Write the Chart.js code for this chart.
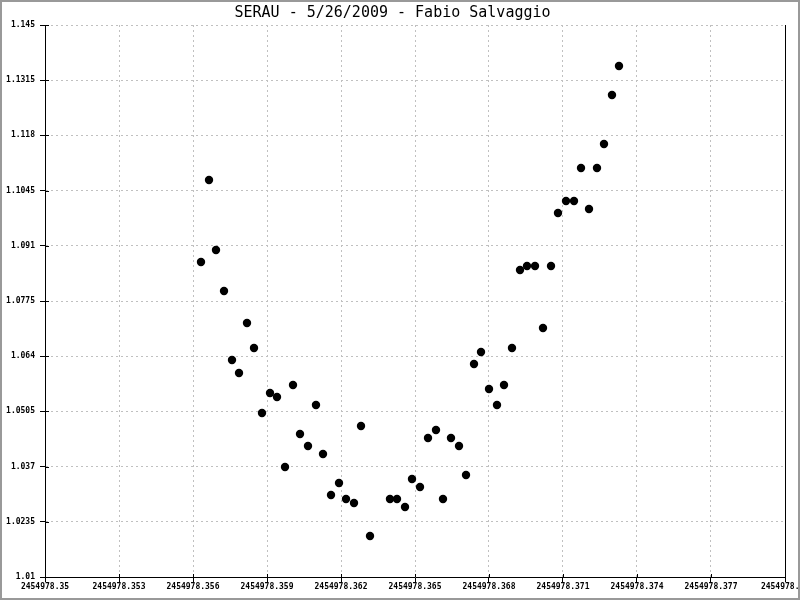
<!DOCTYPE html>
<html>
<head>
<meta charset="utf-8">
<script src="https://cdn.jsdelivr.net/npm/chart.js@4"></script>
<style>
  body { margin: 0; background: #fff; }
  #wrap { width: 800px; height: 600px; }
</style>
</head>
<body>
<div id="wrap"><canvas id="lightChart" width="800" height="600"></canvas></div>
<script>
// JD of each frame and its measured flux ratio
const jd = [
  2454978.356324, 2454978.356649, 2454978.356932, 2454978.357257, 2454978.357581,
  2454978.357865, 2454978.358189, 2454978.358473, 2454978.358797, 2454978.359122,
  2454978.359405, 2454978.359730, 2454978.360054, 2454978.360338, 2454978.360662,
  2454978.360986, 2454978.361270, 2454978.361595, 2454978.361919, 2454978.362203,
  2454978.362527, 2454978.362811, 2454978.363176, 2454978.363986, 2454978.364270,
  2454978.364595, 2454978.364878, 2454978.365203, 2454978.365527, 2454978.365851,
  2454978.366135, 2454978.366459, 2454978.366784, 2454978.367068, 2454978.367392,
  2454978.367676, 2454978.368000, 2454978.368324, 2454978.368608, 2454978.368932,
  2454978.369257, 2454978.369541, 2454978.369865, 2454978.370189, 2454978.370514,
  2454978.370797, 2454978.371122, 2454978.371446, 2454978.371730, 2454978.372054,
  2454978.372378, 2454978.372662, 2454978.372986, 2454978.373270
];
const flux = [
  1.08704, 1.10709, 1.08997, 1.07995, 1.06307,
  1.05989, 1.07212, 1.06600, 1.05011, 1.05500,
  1.05402, 1.03690, 1.05696, 1.04497, 1.04204,
  1.05207, 1.04008, 1.03005, 1.03299, 1.02908,
  1.02810, 1.04693, 1.02003, 1.02908, 1.02908,
  1.02712, 1.03397, 1.03201, 1.04399, 1.04595,
  1.02908, 1.04399, 1.04204, 1.03495, 1.06209,
  1.06503, 1.05598, 1.05207, 1.05696, 1.06600,
  1.08508, 1.08606, 1.08606, 1.07090, 1.08606,
  1.09902, 1.10196, 1.10196, 1.11003, 1.10000,
  1.11003, 1.11590, 1.12788, 1.13497
];
const xTicks = [2454978.35, 2454978.353, 2454978.356, 2454978.359, 2454978.362, 2454978.365,
                2454978.368, 2454978.371, 2454978.374, 2454978.377, 2454978.38];
const xTickLabels = ['2454978.35', '2454978.353', '2454978.356', '2454978.359', '2454978.362', '2454978.365',
                     '2454978.368', '2454978.371', '2454978.374', '2454978.377', '2454978.38'];
const yTicks = [1.01, 1.0235, 1.037, 1.0505, 1.064, 1.0775, 1.091, 1.1045, 1.118, 1.1315, 1.145];
const yTickLabels = ['1.01', '1.0235', '1.037', '1.0505', '1.064', '1.0775', '1.091', '1.1045', '1.118', '1.1315', '1.145'];

const points = jd.map((x, i) => ({ x: x, y: flux[i] }));
const tickFont = { family: 'DejaVu Sans Mono', size: 8, weight: 'bold' };
const gridStyle = { color: '#c0c0c0', tickColor: '#000', tickLength: 5, lineWidth: 1 };

// inner half of the tick marks + grey frame round the picture
const extras = {
  id: 'extras',
  afterDraw(chart) {
    const ctx = chart.ctx;
    const a = chart.chartArea;
    const xs = chart.scales.x, ys = chart.scales.y;
    ctx.save();
    ctx.strokeStyle = '#000';
    ctx.lineWidth = 1;
    ctx.beginPath();
    xs.ticks.forEach(t => {
      const p = Math.round(xs.getPixelForValue(t.value)) + 0.5;
      ctx.moveTo(p, a.bottom); ctx.lineTo(p, a.bottom - 3);
    });
    ys.ticks.forEach(t => {
      const p = Math.round(ys.getPixelForValue(t.value)) + 0.5;
      ctx.moveTo(a.left, p); ctx.lineTo(a.left + 4, p);
    });
    ctx.stroke();
    ctx.strokeStyle = '#999';
    ctx.lineWidth = 2;
    ctx.strokeRect(1, 1, 798, 598);
    ctx.restore();
  }
};

new Chart(document.getElementById('lightChart').getContext('2d'), {
  type: 'scatter',
  data: {
    datasets: [{
      data: points,
      backgroundColor: '#000',
      borderWidth: 0,
      pointRadius: 4.2
    }]
  },
  options: {
    responsive: false,
    animation: false,
    layout: { padding: { left: 0, right: 15, top: 0, bottom: 0 } },
    plugins: {
      legend: { display: false },
      tooltip: { enabled: false },
      title: {
        display: true,
        text: 'SERAU - 5/26/2009 - Fabio Salvaggio',
        color: '#000',
        font: { family: 'DejaVu Sans Mono', size: 15, weight: 'normal' },
        padding: { top: 4, bottom: 3 }
      }
    },
    scales: {
      x: {
        type: 'linear',
        min: xTicks[0],
        max: xTicks[xTicks.length - 1],
        afterBuildTicks: s => { s.ticks = xTicks.map(v => ({ value: v })); },
        afterFit: s => { s.height = 23; s.paddingLeft = 0; s.paddingRight = 0; },
        ticks: {
          font: tickFont, color: '#000', padding: 0, maxRotation: 0, autoSkip: false,
          callback: (v, i) => xTickLabels[i]
        },
        grid: gridStyle,
        border: { display: true, color: '#000', width: 1, dash: [2, 3] }
      },
      y: {
        type: 'linear',
        min: yTicks[0],
        max: yTicks[yTicks.length - 1],
        afterBuildTicks: s => { s.ticks = yTicks.map(v => ({ value: v })); },
        afterFit: s => { s.width = 45; },
        ticks: {
          font: tickFont, color: '#000', padding: 5, autoSkip: false,
          callback: (v, i) => yTickLabels[i]
        },
        grid: gridStyle,
        border: { display: true, color: '#000', width: 1, dash: [2, 3] }
      },
      y2: {
        type: 'linear',
        position: 'right',
        ticks: { display: false },
        grid: { display: false, drawTicks: false },
        border: { display: true, color: '#000', width: 1 }
      }
    }
  },
  plugins: [extras]
});
</script>
</body>
</html>
